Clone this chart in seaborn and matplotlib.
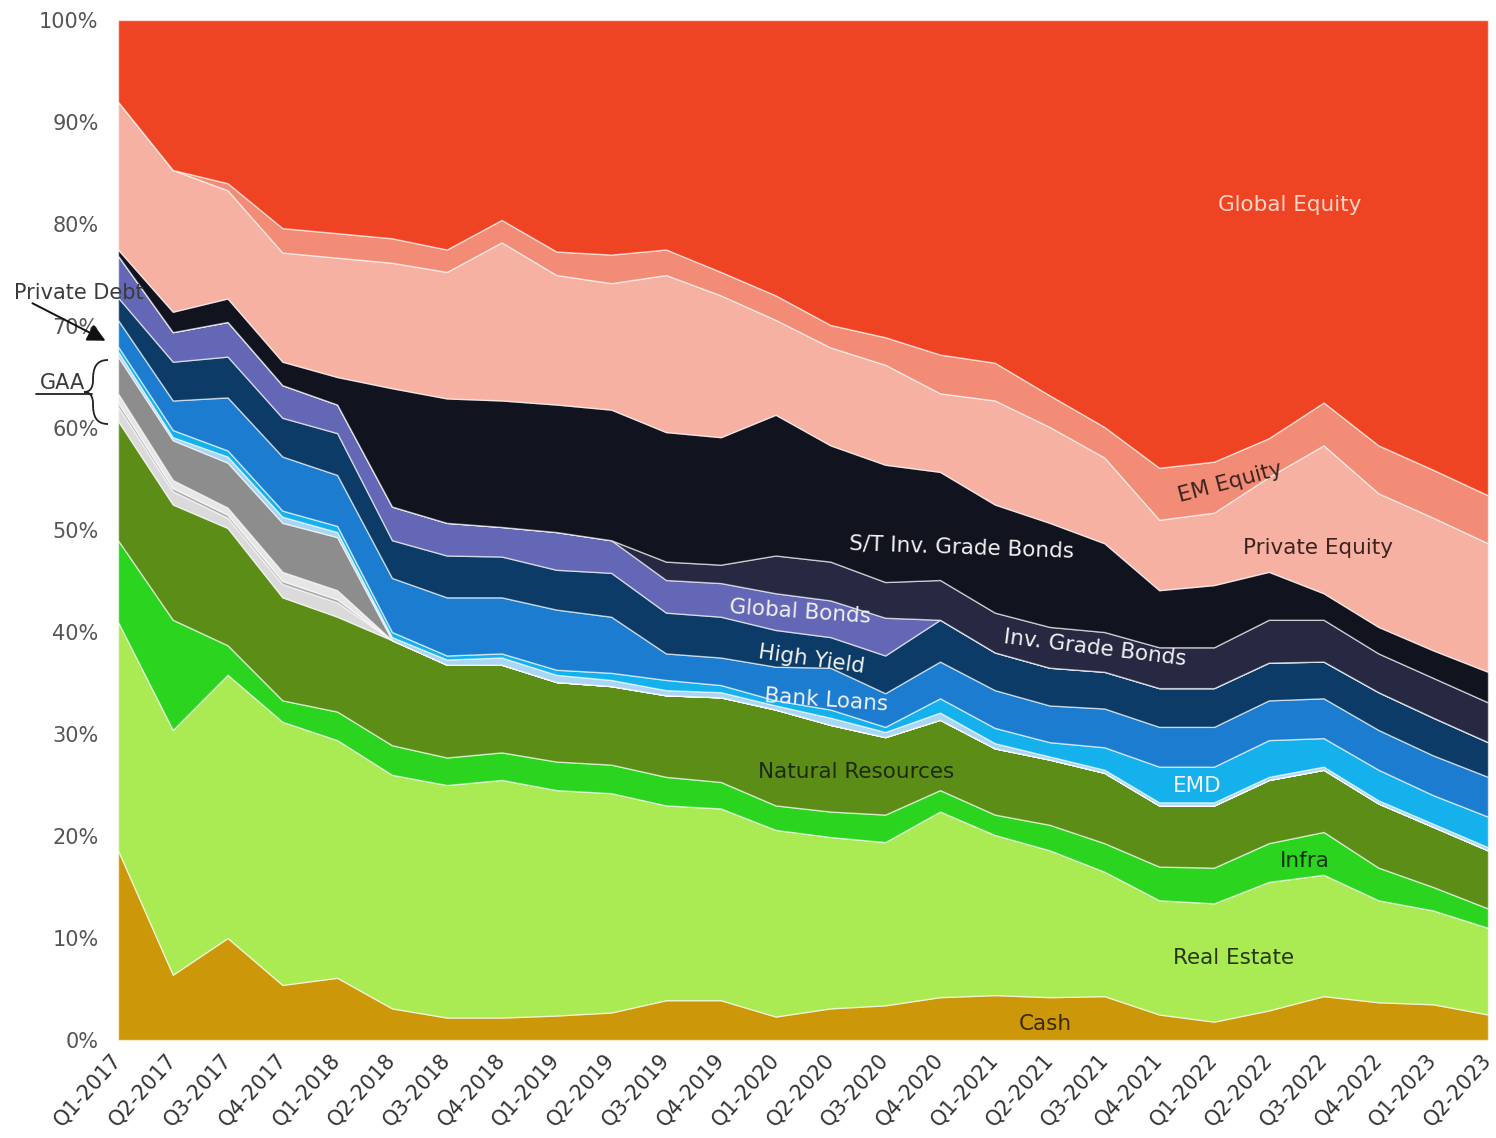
import numpy as np
import pandas as pd
import matplotlib.pyplot as plt
import matplotlib.transforms as mtransforms
import seaborn as sns
from matplotlib.path import Path
from matplotlib.patches import PathPatch
from matplotlib.lines import Line2D
from matplotlib.ticker import FuncFormatter

quarters = ['Q1-2017', 'Q2-2017', 'Q3-2017', 'Q4-2017', 'Q1-2018', 'Q2-2018', 'Q3-2018',
            'Q4-2018', 'Q1-2019', 'Q2-2019', 'Q3-2019', 'Q4-2019', 'Q1-2020', 'Q2-2020',
            'Q3-2020', 'Q4-2020', 'Q1-2021', 'Q2-2021', 'Q3-2021', 'Q4-2021', 'Q1-2022',
            'Q2-2022', 'Q3-2022', 'Q4-2022', 'Q1-2023', 'Q2-2023']

# allocation shares (%), bottom to top
cash = [18.6, 6.4, 10.0, 5.4, 6.1, 3.1, 2.2, 2.2, 2.4, 2.7, 3.9, 3.9, 2.3, 3.1, 3.4, 4.2,
        4.4, 4.2, 4.3, 2.5, 1.8, 2.9, 4.3, 3.7, 3.5, 2.5]
real_estate = [22.4, 24.0, 25.8, 25.8, 23.3, 22.9, 22.8, 23.3, 22.1, 21.5, 19.1, 18.8, 18.3,
               16.8, 16.0, 18.2, 15.7, 14.4, 12.2, 11.2, 11.6, 12.6, 11.9, 10.0, 9.2, 8.5]
infra = [8.0, 10.8, 2.9, 2.1, 2.8, 2.9, 2.7, 2.7, 2.8, 2.8, 2.8, 2.6, 2.4, 2.5, 2.7, 2.1,
         2.0, 2.5, 2.8, 3.3, 3.5, 3.8, 4.2, 3.2, 2.3, 1.9]
natural_resources = [11.7, 11.3, 11.5, 10.1, 9.3, 10.3, 9.1, 8.6, 7.8, 7.7, 8.0, 8.3, 9.4,
                     8.5, 7.6, 6.9, 6.5, 6.4, 6.9, 6.0, 6.1, 6.2, 6.1, 6.3, 5.9, 5.7]
gaa_1 = [1.4, 1.3, 1.0, 1.3, 1.4] + [0] * 21
gaa_2 = [0.4, 0.3, 0.3, 0.3, 0.3] + [0] * 21
gaa_3 = [0.9, 0.8, 0.7, 0.9, 0.9] + [0] * 21
gaa_4 = [3.6, 3.9, 4.4, 4.8, 5.2] + [0] * 21
private_debt = [0.5, 0.3, 0.6, 0.6, 0.5, 0.3, 0.5, 0.7, 0.7, 0.6, 0.5, 0.5, 0.4, 0.7, 0.5,
                0.7, 0.5, 0.3, 0.3, 0.3, 0.3, 0.3, 0.3, 0.3, 0.3, 0.3]
emd = [0.5, 0.7, 0.6, 0.6, 0.6, 0.5, 0.4, 0.4, 0.5, 0.7, 1.0, 0.7, 0.5, 0.8, 0.5, 1.4, 1.5,
       1.4, 2.2, 3.5, 3.5, 3.6, 2.8, 3.0, 2.8, 3.0]
bank_loans = [2.6, 2.9, 5.2, 5.3, 5.0, 5.3, 5.7, 5.5, 5.9, 5.5, 2.6, 2.7, 3.3, 4.1, 3.3, 3.6,
              3.7, 3.6, 3.8, 3.9, 3.9, 3.9, 3.9, 3.9, 3.9, 3.9]
high_yield = [2.2, 3.8, 4.0, 3.8, 4.1, 3.7, 4.1, 4.0, 3.9, 4.3, 4.0, 4.0, 3.6, 3.0, 3.7, 4.1,
              3.7, 3.7, 3.6, 3.8, 3.8, 3.7, 3.6, 3.7, 3.7, 3.4]
global_bonds = [4.1, 2.9, 3.4, 3.2, 2.8, 3.3, 3.2, 2.9, 3.7, 3.2, 3.2, 3.3, 3.6, 3.6, 3.7] + [0] * 11
inv_grade_bonds = [0] * 10 + [1.8, 1.8, 3.7, 3.8, 3.5, 3.9, 3.9, 4.0, 3.9, 4.0, 4.0, 4.2, 4.1,
                              3.8, 3.9, 3.9]
st_inv_grade_bonds = [0.6, 2.0, 2.3, 2.3, 2.7, 11.6, 12.2, 12.4, 12.5, 12.8, 12.7, 12.5, 13.8,
                      11.4, 11.5, 10.6, 10.6, 10.2, 8.7, 5.6, 6.1, 4.7, 2.6, 2.6, 2.7, 3.0]
private_equity = [14.5, 13.9, 10.6, 10.7, 11.7, 12.3, 12.4, 15.5, 12.7, 12.4, 15.4, 13.9, 9.3,
                  9.6, 9.8, 7.7, 10.2, 9.4, 8.4, 6.9, 7.1, 9.3, 14.5, 13.1, 13.0, 12.6]
em_equity = [0, 0, 0.7, 2.4, 2.4, 2.4, 2.2, 2.2, 2.3, 2.8, 2.5, 2.3, 2.4, 2.2, 2.7, 3.8, 3.7,
             3.1, 3.0, 5.1, 5.0, 3.8, 4.2, 4.7, 4.7, 4.7]
global_equity = [8.0, 14.7, 16.0, 20.4, 20.9, 21.4, 22.5, 19.6, 22.7, 23.0, 22.5, 24.7, 27.0,
                 29.9, 31.1, 32.8, 33.6, 36.8, 39.9, 43.9, 43.3, 41.0, 37.5, 41.7, 44.1, 46.6]

df = pd.DataFrame({
    'Cash': cash, 'Real Estate': real_estate, 'Infra': infra,
    'Natural Resources': natural_resources, 'GAA 1': gaa_1, 'GAA 2': gaa_2,
    'GAA 3': gaa_3, 'GAA 4': gaa_4, 'Private Debt': private_debt, 'EMD': emd,
    'Bank Loans': bank_loans, 'High Yield': high_yield, 'Global Bonds': global_bonds,
    'Inv. Grade Bonds': inv_grade_bonds, 'S/T Inv. Grade Bonds': st_inv_grade_bonds,
    'Private Equity': private_equity, 'EM Equity': em_equity, 'Global Equity': global_equity,
}, index=quarters)
df = df.div(df.sum(axis=1), axis=0) * 100

colors = ['#cc9708', '#aaea52', '#2bd41f', '#5b8d17', '#dadada', '#a9a9a9', '#e6e6e6',
          '#8d8d8d', '#a9d6f2', '#14b1ec', '#1c7dd0', '#0b3b66', '#6467b6', '#272842',
          '#11131f', '#f7b1a2', '#f28c76', '#ef4423']

sns.set_theme(style='white')
plt.rcParams['font.family'] = ['DejaVu Sans']

fig, ax = plt.subplots(figsize=(14.96, 11.38), dpi=100)
fig.subplots_adjust(left=118 / 1496, right=1488 / 1496, bottom=98 / 1138, top=1118 / 1138)

x = np.arange(len(quarters))
ax.stackplot(x, df.T.values, colors=colors, edgecolor=(1, 1, 1, 0.6), linewidth=1.0)

ax.set_xlim(0, len(quarters) - 1)
ax.set_ylim(0, 100)
ax.set_yticks(range(0, 101, 10))
ax.yaxis.set_major_formatter(FuncFormatter(lambda v, p: f'{v:.0f}%'))
ax.set_xticks(x)
ax.set_xticklabels(quarters, rotation=48, ha='right', va='center', rotation_mode='anchor')
shift = mtransforms.ScaledTranslation(-4 / 72, 0, fig.dpi_scale_trans)
for lab in ax.get_xticklabels():
    lab.set_transform(lab.get_transform() + shift)
ax.tick_params(axis='y', length=0, pad=14, labelsize=15, labelcolor='#555555')
ax.tick_params(axis='x', length=0, pad=12, labelsize=15, labelcolor='#333333')
ax.grid(False)
sns.despine(ax=ax, left=True, bottom=True)

# in-chart labels
labels = [
    ('Global Equity', 21.39, 81.9, 0, '#fbd6c8'),
    ('EM Equity', 20.29, 54.7, 15, '#3b2320'),
    ('Private Equity', 21.9, 48.2, 0, '#3b2320'),
    ('S/T Inv. Grade Bonds', 15.4, 48.3, -2, '#f2f2f2'),
    ('Inv. Grade Bonds', 17.83, 38.4, -7, '#f2f2f2'),
    ('Global Bonds', 12.45, 42.0, -4, '#f2f2f2'),
    ('High Yield', 12.66, 37.3, -8, '#f2f2f2'),
    ('Bank Loans', 12.92, 33.3, -4, '#f2f2f2'),
    ('Natural Resources', 13.47, 26.3, 0, '#1e2a0c'),
    ('EMD', 19.69, 24.9, 0, '#f2f2f2'),
    ('Infra', 21.66, 17.5, 0, '#133210'),
    ('Real Estate', 20.36, 8.0, 0, '#28380e'),
    ('Cash', 16.92, 1.6, 0, '#3a2a00'),
]
for text, lx, ly, rot, col in labels:
    ax.text(lx, ly, text, ha='center', va='center', rotation=rot, fontsize=15.5, color=col)

# overlay in image pixel coordinates for the side annotations
ov = fig.add_axes([0, 0, 1, 1])
ov.set_xlim(0, 1496)
ov.set_ylim(1138, 0)
ov.axis('off')
ov.patch.set_alpha(0)

ov.text(14, 293, 'Private Debt', ha='left', va='center', fontsize=15, color='#3a3a3a')
ov.annotate('', xy=(108, 342), xytext=(30, 302),
            arrowprops=dict(arrowstyle='-|>,head_length=0.9,head_width=0.45',
                            color='#111111', lw=1.4))
ov.text(63, 383, 'GAA', ha='center', va='center', fontsize=15, color='#3a3a3a')
ov.add_line(Line2D([36, 92], [394, 394], color='#222222', lw=1.3))
brace = Path([(108, 360), (96, 360), (93, 368), (93, 380),
              (93, 388), (90, 392), (84, 392),
              (90, 392), (93, 396), (93, 404),
              (93, 416), (96, 424), (108, 424)],
             [Path.MOVETO] + [Path.CURVE4] * 12)
ov.add_patch(PathPatch(brace, facecolor='none', edgecolor='#222222', lw=1.3))

plt.savefig('out.png', dpi=100)
